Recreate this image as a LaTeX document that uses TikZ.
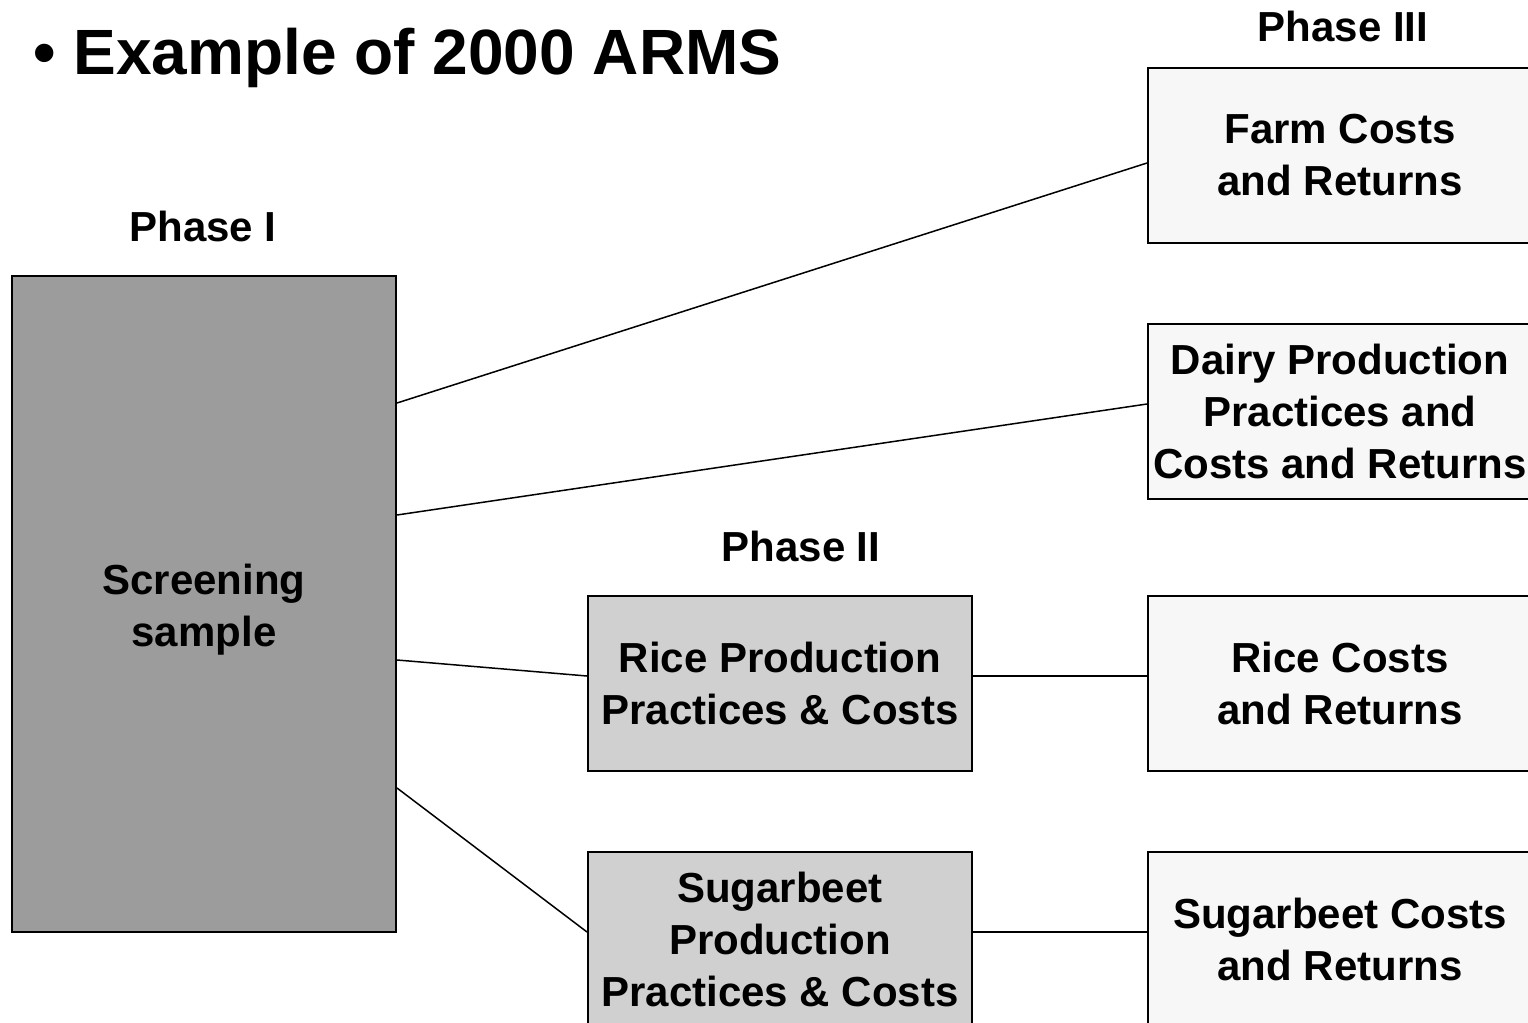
\documentclass[tikz,border=0pt]{standalone}
\usepackage{fontspec}
\setmainfont{Liberation Sans}
\begin{document}
\begin{tikzpicture}[x=0.5pt,y=-0.5pt,
  box/.style={draw=black,line width=1pt,inner sep=0pt,align=center,
    font=\bfseries\fontsize{21}{26}\selectfont,
    minimum width=192pt,minimum height=87.5pt},
  darkbox/.style={box,fill=gray61},
  midbox/.style={box,fill=gray82},
  lightbox/.style={box,fill=gray97},
  boxtext/.style={inner sep=0pt,align=center,font=\bfseries\fontsize{21}{26}\selectfont},
  phase/.style={font=\bfseries\fontsize{21}{26}\selectfont,inner sep=0pt},
  conn/.style={draw=black,line width=0.75pt}]
\definecolor{gray61}{HTML}{9C9C9C}
\definecolor{gray82}{HTML}{D0D0D0}
\definecolor{gray97}{HTML}{F7F7F7}
\useasboundingbox (0,0) rectangle (1528,1023);
\clip (0,0) rectangle (1528,1023);
\fill[white] (0,0) rectangle (1528,1023);

\node[anchor=west,inner sep=0pt,font=\bfseries\fontsize{32}{38}\selectfont] (title) at (33,58) {\textbullet\ Example of 2000 ARMS};

\node[phase] (p3) at (1343,26) {Phase III};
\node[phase] (p1) at (203,226) {Phase I};
\node[phase] (p2) at (801,546) {Phase II};

\node[darkbox,minimum height=328pt] (scr) at (204,604) {};
\node[boxtext] (scrt) at (204,610) {Screening\\sample};
\node[lightbox] (farm) at (1340,155.5) {Farm Costs\\and Returns};
\node[lightbox] (dairy) at (1340,411.5) {Dairy Production\\Practices and\\Costs and Returns};
\node[midbox] (ricepp) at (780,683.5) {Rice Production\\Practices \& Costs};
\node[lightbox] (ricecr) at (1340,683.5) {Rice Costs\\and Returns};
\node[midbox] (sugpp) at (780,939.5) {Sugarbeet\\Production\\Practices \& Costs};
\node[lightbox] (sugcr) at (1340,939.5) {Sugarbeet Costs\\and Returns};

\coordinate (ya) at (0,403);
\coordinate (yb) at (0,163);
\coordinate (yc) at (0,515);
\coordinate (yd) at (0,404);
\coordinate (ye) at (0,660);
\coordinate (yf) at (0,676);
\coordinate (yg) at (0,788);
\coordinate (yh) at (0,932);

\draw[conn] (scr.east |- ya) -- (farm.west |- yb);
\draw[conn] (scr.east |- yc) -- (dairy.west |- yd);
\draw[conn] (scr.east |- ye) -- (ricepp.west |- yf);
\draw[conn] (scr.east |- yg) -- (sugpp.west |- yh);
\draw[conn] (ricepp.east |- yf) -- (ricecr.west |- yf);
\draw[conn] (sugpp.east |- yh) -- (sugcr.west |- yh);
\end{tikzpicture}
\end{document}
